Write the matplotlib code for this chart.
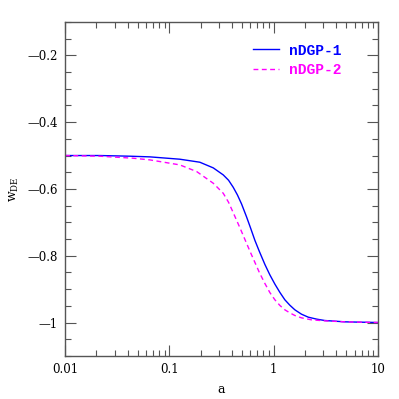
import numpy as np
import matplotlib.pyplot as plt
from matplotlib.ticker import MultipleLocator, LogLocator, NullFormatter

plt.rcParams['font.family'] = 'DejaVu Serif'
plt.rcParams['mathtext.fontset'] = 'dejavuserif'

# values
a1 = [0.01, 0.0216, 0.0418, 0.065, 0.126, 0.196, 0.264, 0.329, 0.37, 0.41,
      0.45, 0.493, 0.551, 0.60, 0.662, 0.73, 0.825, 0.92, 1.029, 1.15, 1.283,
      1.43, 1.60, 1.85, 2.15, 2.6, 3.10, 4.83, 10.0]
w1 = [-0.500, -0.500, -0.502, -0.504, -0.511, -0.520, -0.537, -0.558, -0.574,
      -0.595, -0.618, -0.645, -0.684, -0.716, -0.754, -0.787, -0.826, -0.857,
      -0.885, -0.910, -0.932, -0.948, -0.962, -0.975, -0.984, -0.990, -0.994,
      -0.998, -1.000]

a2 = [0.01, 0.0216, 0.0448, 0.065, 0.126, 0.183, 0.264, 0.329, 0.37, 0.41,
      0.475, 0.551, 0.60, 0.662, 0.73, 0.825, 0.92, 1.029, 1.15, 1.283, 1.43,
      1.60, 1.85, 2.31, 3.10, 4.83, 10.0]
w2 = [-0.500, -0.502, -0.508, -0.513, -0.528, -0.548, -0.583, -0.613, -0.640,
      -0.671, -0.716, -0.763, -0.790, -0.820, -0.850, -0.883, -0.910, -0.932,
      -0.949, -0.962, -0.971, -0.979, -0.986, -0.992, -0.995, -0.998, -1.000]

labels = ['nDGP-1', 'nDGP-2']

fig = plt.figure(figsize=(3.99, 3.99), dpi=100)
ax = fig.add_axes([0.163, 0.108, 0.784, 0.837])

ax.plot(a1, w1, color='#0000ff', lw=1.0, label=labels[0])
ax.plot(a2, w2, color='#ff00ff', lw=1.0, dashes=(3.5, 2.5), label=labels[1])

ax.set_xscale('log')
ax.set_xlim(0.01, 10)
ax.set_ylim(-1.1, -0.1)

ax.set_xticks([0.01, 0.1, 1, 10])
ax.set_xticklabels(['0.01', '0.1', '1', '10'])
ax.xaxis.set_minor_locator(LogLocator(base=10, subs=np.arange(2, 10)))
ax.xaxis.set_minor_formatter(NullFormatter())
ax.set_yticks([-1, -0.8, -0.6, -0.4, -0.2])
ax.set_yticklabels(['\u20141', '\u20140.8', '\u20140.6', '\u20140.4', '\u20140.2'])
ax.yaxis.set_minor_locator(MultipleLocator(0.05))

sc = '#555555'
for s in ax.spines.values():
    s.set_color(sc)
    s.set_linewidth(1.0)
ax.tick_params(which='both', direction='in', top=True, right=True, color=sc,
               labelsize=8.5, pad=5)
ax.tick_params(which='major', length=8, width=0.8)
ax.tick_params(which='minor', length=4, width=0.8)

ax.set_xlabel('a', fontsize=9, labelpad=5)
ax.set_ylabel(r'w$_{\mathrm{DE}}$', fontsize=9, labelpad=5)

leg = ax.legend(loc='upper left', bbox_to_anchor=(0.579, 0.957), frameon=False,
                borderpad=0, handlelength=1.75, handletextpad=0.7, labelspacing=0.4,
                labelcolor='linecolor',
                prop={'family': 'Liberation Mono', 'size': 10.5, 'weight': 'bold'})

fig.savefig('out.png', dpi=100)
